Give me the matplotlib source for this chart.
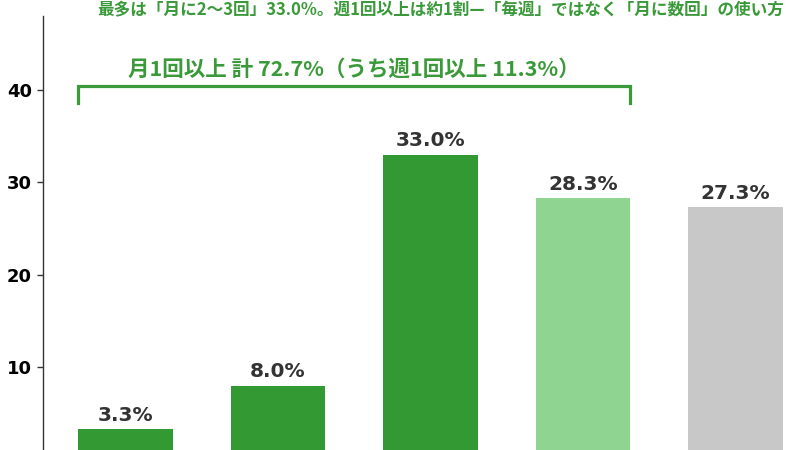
import matplotlib
matplotlib.use('Agg')
import matplotlib.pyplot as plt

plt.rcParams['font.family'] = ['Noto Sans CJK JP', 'DejaVu Sans']

# データ
categories = ['週2回以上', '週1回', '月に2〜3回', '月に1回', '月1回未満']
values = [3.3, 8.0, 33.0, 28.3, 27.3]
value_labels = ['3.3%', '8.0%', '33.0%', '28.3%', '27.3%']
bar_colors = ['#339933', '#339933', '#339933', '#90d492', '#c8c8c8']
yticks = [10, 20, 30, 40]

title = '最多は「月に2〜3回」33.0%。週1回以上は約1割—「毎週」ではなく「月に数回」の使い方'
bracket_text = '月1回以上 計 72.7%（うち週1回以上 11.3%）'
bracket_span = (0, 3)  # 棒のインデックス範囲
bracket_y = (38.6, 40.4)

GREEN = '#3a9a3a'
BAR_W = 0.62

fig = plt.figure(figsize=(8, 4.5), dpi=100)
ax = fig.add_axes([43 / 800, -0.0211, 796 / 800, 0.9855])

x = list(range(len(values)))
ax.bar(x, values, width=BAR_W, color=bar_colors)

# 値ラベル
for xi, v, lab in zip(x, values, value_labels):
    ax.annotate(lab, (xi, v), xytext=(0, 3), textcoords='offset points',
                ha='center', va='bottom', fontsize=14.5, fontweight='bold',
                color='#333333', family='DejaVu Sans')

# ブラケット
x0 = bracket_span[0] - BAR_W / 2
x1 = bracket_span[1] + BAR_W / 2
yb, yt = bracket_y
ax.plot([x0, x0, x1, x1], [yb, yt, yt, yb], color=GREEN, lw=2.3,
        solid_joinstyle='miter', clip_on=False)
ax.text((x0 + x1) / 2, 42.2, bracket_text, ha='center', va='center',
        fontsize=15.5, fontweight='bold', color=GREEN)

ax.set_xlim(-0.541, 4.68)
ax.set_ylim(0, 48)
ax.set_yticks(yticks)
ax.set_yticklabels([str(t) for t in yticks], fontsize=13, fontweight='bold',
                   family='DejaVu Sans')
ax.set_xticks([])
ax.tick_params(axis='y', length=4, width=1, pad=4, color='#333333')
for s in ['top', 'right', 'bottom']:
    ax.spines[s].set_visible(False)
ax.spines['left'].set_color('#333333')
ax.spines['left'].set_linewidth(1)

fig.text(441 / 800, (450 - 15) / 450, title, ha='center', va='baseline',
         fontsize=12, fontweight='bold', color=GREEN)

fig.savefig('out.png', dpi=100)
